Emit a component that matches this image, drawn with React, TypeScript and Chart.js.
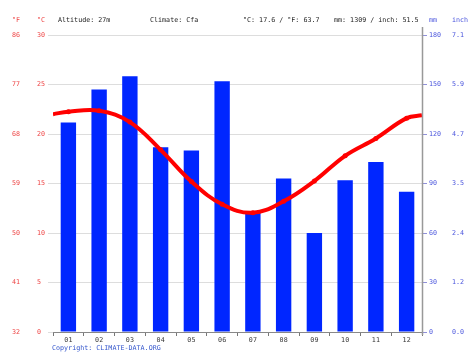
import React, { useEffect, useRef } from 'react';
import { Chart, registerables } from 'chart.js';

Chart.register(...registerables);

const months = ['01', '02', '03', '04', '05', '06', '07', '08', '09', '10', '11', '12'];
const precipitationMm = [127, 147, 155, 112, 110, 152, 73, 93, 60, 92, 103, 85];
const temperatureC = [22.25, 22.35, 21.2, 18.4, 15.2, 12.9, 12.05, 13.2, 15.25, 17.8, 19.55, 21.6];
const temperatureEdgeStartC = 22.0;
const temperatureEdgeEndC = 21.9;
const celsiusTicks = [0, 5, 10, 15, 20, 25, 30];
const fahrenheitTicks = ['32', '41', '50', '59', '68', '77', '86'];
const mmTicks = [0, 30, 60, 90, 120, 150, 180];
const inchTicks = ['0.0', '1.2', '2.4', '3.5', '4.7', '5.9', '7.1'];
const headerTexts = ['Altitude: 27m', 'Climate: Cfa', '°C: 17.6 / °F: 63.7', 'mm: 1309 / inch: 51.5'];
const headerX = [58, 150, 243, 334];
const copyrightText = 'Copyright: CLIMATE-DATA.ORG';

const FONT_FAMILY = '"DejaVu Sans Mono", "Liberation Mono", monospace';
const FONT_SIZE = 6.7;
const RED_TEXT = '#ee4444';
const BLUE_TEXT = '#4a55dd';

const overlayPlugin = {
  id: 'climateOverlay',
  afterDraw(chart: any) {
    const ctx = chart.ctx as CanvasRenderingContext2D;
    const yC = chart.scales.y;
    const yMM = chart.scales.yMM;
    const area = chart.chartArea;
    ctx.save();
    ctx.font = `${FONT_SIZE}px ${FONT_FAMILY}`;
    ctx.textBaseline = 'middle';
    ctx.textAlign = 'left';

    // right axis line
    ctx.strokeStyle = '#999999';
    ctx.lineWidth = 1.5;
    ctx.beginPath();
    ctx.moveTo(area.right + 0.5, area.top - 8);
    ctx.lineTo(area.right + 0.5, area.bottom + 3);
    ctx.stroke();

    // header
    const headerY = 20.5;
    ctx.fillStyle = RED_TEXT;
    ctx.fillText('°F', 12, headerY);
    ctx.fillText('°C', 37, headerY);
    ctx.fillStyle = '#222222';
    headerTexts.forEach((t, i) => ctx.fillText(t, headerX[i], headerY));
    ctx.fillStyle = BLUE_TEXT;
    ctx.fillText('mm', 429, headerY);
    ctx.fillText('inch', 452, headerY);

    // left tick labels
    celsiusTicks.forEach((c, i) => {
      const py = yC.getPixelForValue(c);
      ctx.fillStyle = RED_TEXT;
      ctx.fillText(fahrenheitTicks[i], 12, py);
      ctx.fillText(String(c), 37, py);
    });
    // right tick labels
    mmTicks.forEach((m, i) => {
      const py = yMM.getPixelForValue(m);
      ctx.fillStyle = BLUE_TEXT;
      ctx.fillText(String(m), 429, py);
      ctx.fillText(inchTicks[i], 452, py);
    });

    // copyright
    ctx.fillStyle = '#3355cc';
    ctx.fillText(copyrightText, 52, 348.5);
    ctx.restore();
  },
};

export default function App() {
  const canvasRef = useRef<HTMLCanvasElement | null>(null);

  useEffect(() => {
    document.body.style.margin = '0';
    const canvas = canvasRef.current;
    if (!canvas) return;

    const lineData = [
      { x: 0.5, y: temperatureEdgeStartC },
      ...temperatureC.map((v, i) => ({ x: i + 1, y: v })),
      { x: 12.5, y: temperatureEdgeEndC },
    ];
    const pointRadii = lineData.map((_, i) => (i === 0 || i === lineData.length - 1 ? 0 : 2.5));

    const chart = new Chart(canvas, {
      type: 'bar',
      data: {
        labels: months,
        datasets: [
          {
            type: 'line',
            label: 'Temperature',
            data: lineData as any,
            xAxisID: 'x2',
            yAxisID: 'y',
            borderColor: '#ff0000',
            backgroundColor: '#ff0000',
            borderWidth: 4,
            tension: 0.4,
            pointRadius: pointRadii,
            pointBackgroundColor: '#ff0000',
            pointBorderWidth: 0,
            order: 0,
          } as any,
          {
            type: 'bar',
            label: 'Precipitation',
            data: precipitationMm,
            xAxisID: 'x',
            yAxisID: 'yMM',
            backgroundColor: '#0026ff',
            borderWidth: 0,
            grouped: false,
            categoryPercentage: 1,
            barPercentage: 0.5,
            order: 1,
          } as any,
        ],
      },
      options: {
        responsive: false,
        animation: false,
        devicePixelRatio: 1,
        layout: { padding: { left: 48, right: 47, top: 35, bottom: 11 } },
        plugins: { legend: { display: false }, tooltip: { enabled: false } },
        scales: {
          x: {
            type: 'category',
            offset: true,
            grid: { offset: true, drawOnChartArea: false, tickLength: 4, color: '#777777' },
            border: { display: true, color: '#888888', width: 1 },
            ticks: {
              color: '#333333',
              font: { size: FONT_SIZE, family: FONT_FAMILY },
              padding: 0,
              maxRotation: 0,
              autoSkip: false,
            },
            afterFit: (s: any) => {
              s.height = 12;
            },
          },
          x2: {
            type: 'linear',
            min: 0.5,
            max: 12.5,
            offset: false,
            display: false,
            grid: { offset: false },
          },
          y: {
            type: 'linear',
            position: 'left',
            min: 0,
            max: 30,
            ticks: { stepSize: 5, display: false },
            grid: { color: '#dddddd', tickLength: 5 },
            border: { display: false },
            afterFit: (s: any) => {
              s.width = 5;
            },
          },
          yMM: {
            type: 'linear',
            position: 'right',
            min: 0,
            max: 180,
            ticks: { stepSize: 30, display: false },
            grid: { drawOnChartArea: false, tickLength: 5, color: '#9090d8' },
            border: { display: false },
            afterFit: (s: any) => {
              s.width = 5;
            },
          },
        } as any,
      },
      plugins: [overlayPlugin],
    });

    return () => chart.destroy();
  }, []);

  return (
    <div style={{ position: 'absolute', left: 0, top: 0, width: 474, height: 355, background: '#ffffff' }}>
      <canvas ref={canvasRef} width={474} height={355} style={{ width: 474, height: 355 }} />
    </div>
  );
}
